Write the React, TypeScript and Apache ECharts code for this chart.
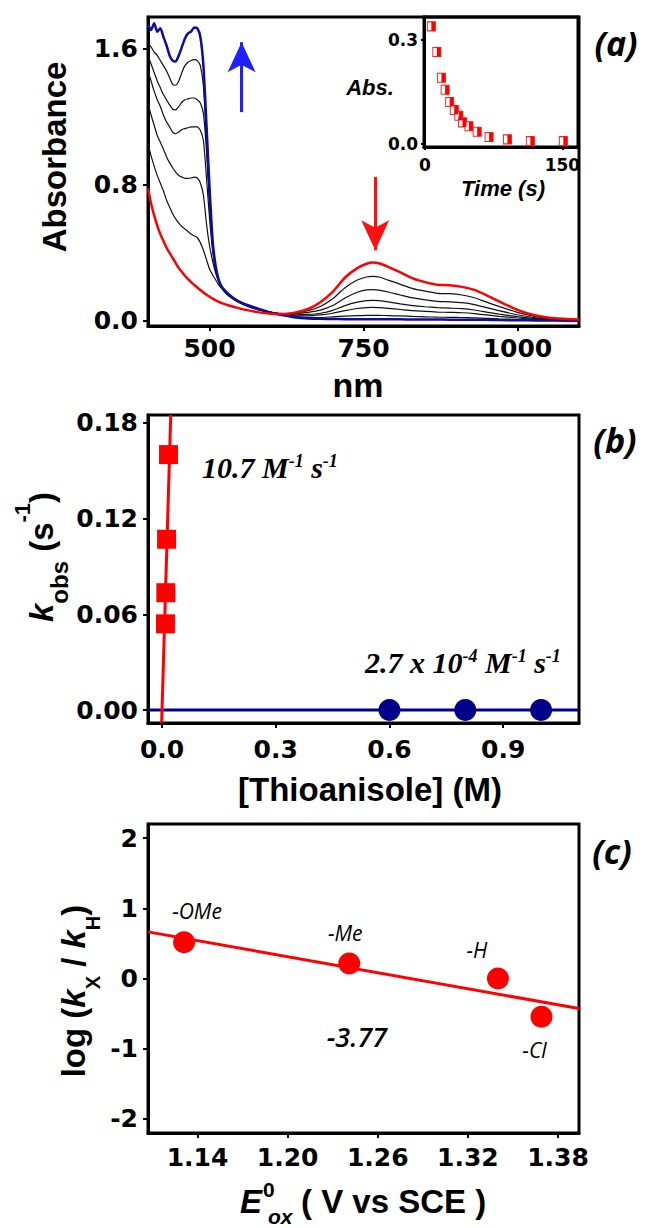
import React, { useEffect, useRef } from 'react';
import * as echarts from 'echarts';

// ---------- Panel (a): UV-vis spectra ----------
const wavelengths = [
  400, 405, 410, 415, 420, 425, 430, 435, 440, 445, 450, 455, 460, 465, 470, 475, 480, 485, 490, 495, 500, 505, 510, 515, 520,
  530, 540, 550, 560,
  580, 600, 620, 640, 660, 680, 700, 720, 740,
  755, 765, 775,
  790, 810, 830, 850, 870, 890, 910, 930, 950, 970,
  1000, 1030, 1060, 1100,
];

const absRed = [
  0.78, 0.69, 0.62, 0.56, 0.51, 0.47, 0.43, 0.40, 0.37, 0.34, 0.31, 0.287, 0.265, 0.245, 0.228, 0.212, 0.196, 0.181, 0.167, 0.154, 0.142, 0.131, 0.121, 0.112, 0.104,
  0.092, 0.082, 0.072, 0.064,
  0.05, 0.042, 0.04, 0.05, 0.07, 0.11, 0.17, 0.255, 0.31,
  0.336, 0.343, 0.339,
  0.318, 0.285, 0.25, 0.228, 0.213, 0.21, 0.2, 0.182, 0.15, 0.115,
  0.065, 0.032, 0.016, 0.008,
];

const absBlack1 = [
  1.04, 0.97, 0.91, 0.855, 0.81, 0.765, 0.71, 0.67, 0.63, 0.60, 0.575, 0.555, 0.54, 0.525, 0.51, 0.50, 0.49, 0.46, 0.415, 0.36, 0.305, 0.27, 0.24, 0.21, 0.19,
  0.16, 0.135, 0.11, 0.093,
  0.065, 0.05, 0.043, 0.047, 0.06, 0.085, 0.13, 0.195, 0.24,
  0.258, 0.262, 0.258,
  0.24, 0.215, 0.19, 0.175, 0.162, 0.16, 0.152, 0.136, 0.11, 0.085,
  0.05, 0.025, 0.012, 0.006,
];

const absBlack2 = [
  1.28, 1.21, 1.15, 1.09, 1.05, 1.01, 0.965, 0.93, 0.90, 0.875, 0.855, 0.845, 0.838, 0.838, 0.84, 0.845, 0.84, 0.81, 0.74, 0.57, 0.44, 0.35, 0.28, 0.23, 0.195,
  0.15, 0.125, 0.104, 0.088,
  0.064, 0.049, 0.041, 0.042, 0.05, 0.063, 0.09, 0.135, 0.168,
  0.182, 0.184, 0.181,
  0.17, 0.152, 0.135, 0.124, 0.115, 0.112, 0.107, 0.096, 0.078, 0.06,
  0.036, 0.018, 0.009, 0.004,
];

const absBlack3 = [
  1.47, 1.41, 1.35, 1.30, 1.26, 1.21, 1.17, 1.14, 1.11, 1.10, 1.11, 1.125, 1.13, 1.135, 1.14, 1.14, 1.14, 1.12, 1.06, 0.84, 0.60, 0.41, 0.29, 0.23, 0.19,
  0.15, 0.125, 0.105, 0.09,
  0.066, 0.05, 0.04, 0.036, 0.038, 0.045, 0.062, 0.09, 0.11,
  0.119, 0.121, 0.119,
  0.112, 0.1, 0.09, 0.083, 0.078, 0.075, 0.072, 0.064, 0.052, 0.04,
  0.025, 0.013, 0.007, 0.003,
];

const absBlack4 = [
  1.56, 1.51, 1.46, 1.41, 1.37, 1.33, 1.30, 1.27, 1.245, 1.24, 1.26, 1.285, 1.30, 1.305, 1.31, 1.31, 1.30, 1.28, 1.22, 1.0, 0.68, 0.43, 0.30, 0.235, 0.195,
  0.155, 0.128, 0.108, 0.093,
  0.068, 0.05, 0.038, 0.03, 0.03, 0.035, 0.045, 0.06, 0.073,
  0.078, 0.079, 0.078,
  0.074, 0.067, 0.06, 0.056, 0.052, 0.05, 0.048, 0.043, 0.035, 0.027,
  0.017, 0.009, 0.005, 0.002,
];

const absBlack5 = [
  1.63, 1.61, 1.58, 1.56, 1.53, 1.50, 1.47, 1.43, 1.39, 1.385, 1.41, 1.46, 1.50, 1.52, 1.53, 1.535, 1.53, 1.50, 1.38, 1.05, 0.70, 0.44, 0.31, 0.24, 0.2,
  0.16, 0.13, 0.11, 0.095,
  0.07, 0.05, 0.037, 0.025, 0.02, 0.02, 0.024, 0.028, 0.031,
  0.033, 0.033, 0.033,
  0.031, 0.029, 0.026, 0.024, 0.022, 0.021, 0.02, 0.018, 0.015, 0.012,
  0.008, 0.005, 0.003, 0.001,
];

const absBlue = [
  1.74, 1.71, 1.75, 1.70, 1.72, 1.67, 1.62, 1.56, 1.53, 1.525, 1.56, 1.61, 1.66, 1.69, 1.70, 1.725, 1.72, 1.67, 1.50, 1.15, 0.78, 0.47, 0.32, 0.24, 0.2,
  0.16, 0.13, 0.11, 0.095,
  0.07, 0.048, 0.033, 0.02, 0.014, 0.012, 0.011, 0.01, 0.01,
  0.01, 0.01, 0.01,
  0.009, 0.009, 0.008, 0.008, 0.008, 0.007, 0.007, 0.006, 0.006, 0.005,
  0.004, 0.003, 0.002, 0.001,
];

// arrows (data coordinates): [x, yStart, yTip]
const blueArrow = [552, 1.227, 1.638];
const redArrow = [769, 0.846, 0.415];

// ---------- Inset: decay at 765 nm ----------
const insetTime = [7, 13, 18, 22, 27, 32, 37, 41, 48, 57, 70, 90, 115, 151];
const insetAbs = [0.34, 0.266, 0.192, 0.157, 0.122, 0.099, 0.082, 0.063, 0.052, 0.036, 0.021, 0.014, 0.009, 0.009];

// ---------- Panel (b): kobs vs [thioanisole] ----------
const thioRed = [0.009, 0.010, 0.012, 0.017];
const kobsRed = [0.054, 0.0735, 0.107, 0.16];
const fitRedX = [-0.001, 0.023];
const fitRedY = [-0.0081, 0.1848];
const thioBlue = [0.6, 0.8, 1.0];
const kobsBlue = [0, 0, 0];
const fitBlueX = [-0.037, 1.1];
const fitBlueY = [0, 0];

// ---------- Panel (c): Hammett-type plot ----------
const substituents = ['-OMe', '-Me', '-H', '-Cl'];
const eox = [1.131, 1.241, 1.34, 1.369];
const logRatio = [0.516, 0.213, 0, -0.545];
const fitEX = [1.107, 1.394];
const fitEY = [0.664, -0.427];

// ---------- ticks ----------
const aXTicks = [500, 750, 1000];
const aYTicks = [0, 0.8, 1.6];
const insetXTicks = [0, 150];
const insetYTicks = [0, 0.3];
const bXTicks = [0, 0.3, 0.6, 0.9];
const bYTicks = [0, 0.06, 0.12, 0.18];
const cXTicks = [1.14, 1.2, 1.26, 1.32, 1.38];
const cYTicks = [-2, -1, 0, 1, 2];

const TICK_FONT = 'DejaVu Sans';
const TITLE_FONT = 'Liberation Sans';
const SERIF = 'Liberation Serif';
const ITAL = 'Open Sans';

function valueAxis(gridIndex: number, min: number, max: number, ticks: number[], digits: number, o: any = {}) {
  return {
    type: 'value',
    gridIndex,
    min,
    max,
    axisLine: { show: true, onZero: false, lineStyle: { color: '#000', width: 3 } },
    axisTick: {
      show: true,
      inside: false,
      length: o.tickLen ?? 5,
      customValues: ticks,
      lineStyle: { color: '#000', width: 2 },
    },
    axisLabel: {
      show: true,
      customValues: ticks,
      formatter: (v: number) => Number(v).toFixed(digits),
      fontFamily: TICK_FONT,
      fontWeight: 'bold',
      fontSize: o.fontSize ?? 25,
      color: '#000',
      margin: o.margin ?? 10,
    },
    splitLine: { show: false },
  };
}

function pairs(xs: number[], ys: number[]) {
  return xs.map((x, i) => [x, ys[i]]);
}

function txt(text: string, x: number, y: number, style: any, extra: any = {}) {
  return {
    type: 'text',
    x,
    y,
    rotation: extra.rotation ?? 0,
    z: 100,
    style: {
      text,
      fill: '#000',
      align: extra.align ?? 'center',
      textAlign: extra.align ?? 'center',
      verticalAlign: 'middle',
      textVerticalAlign: 'middle',
      ...style,
    },
  };
}

function buildOption() {
  const grids = [
    { left: 148, top: 17, width: 431, height: 309 },
    { left: 424, top: 17, width: 154, height: 130 },
    { left: 148, top: 415, width: 431, height: 308 },
    { left: 148, top: 824, width: 431, height: 309 },
  ].map((g) => ({ ...g, show: true, borderColor: '#000', borderWidth: 3, backgroundColor: 'transparent', containLabel: false }));

  const blackCurves = [absBlack1, absBlack2, absBlack3, absBlack4, absBlack5];

  const series: any[] = [];
  blackCurves.forEach((arr, k) => {
    series.push({
      name: 'black' + k,
      type: 'line',
      xAxisIndex: 0,
      yAxisIndex: 0,
      data: pairs(wavelengths, arr),
      showSymbol: false,
      symbol: 'none',
      smooth: 0.2,
      lineStyle: { color: '#111', width: 1.2 },
      z: 2,
    });
  });
  series.push({
    name: 'blue',
    type: 'line',
    xAxisIndex: 0,
    yAxisIndex: 0,
    data: pairs(wavelengths, absBlue),
    showSymbol: false,
    symbol: 'none',
    smooth: 0.2,
    lineStyle: { color: '#0c0ca6', width: 2.5 },
    z: 3,
    markLine: {
      silent: true,
      symbol: ['none', 'arrow'],
      symbolSize: [21, 30],
      label: { show: false },
      lineStyle: { color: '#1f1fff', width: 3, type: 'solid' },
      data: [[{ coord: [blueArrow[0], blueArrow[1]] }, { coord: [blueArrow[0], blueArrow[2]] }]],
    },
  });
  series.push({
    name: 'red',
    type: 'line',
    xAxisIndex: 0,
    yAxisIndex: 0,
    data: pairs(wavelengths, absRed),
    showSymbol: false,
    symbol: 'none',
    smooth: 0.2,
    lineStyle: { color: '#ff0000', width: 2.5 },
    z: 4,
    markLine: {
      silent: true,
      symbol: ['none', 'arrow'],
      symbolSize: [21, 30],
      label: { show: false },
      lineStyle: { color: '#ff1010', width: 3, type: 'solid' },
      data: [[{ coord: [redArrow[0], redArrow[1]] }, { coord: [redArrow[0], redArrow[2]] }]],
    },
  });

  // inset: half-filled squares
  series.push({
    type: 'scatter',
    xAxisIndex: 1,
    yAxisIndex: 1,
    data: pairs(insetTime, insetAbs),
    symbol: 'rect',
    symbolSize: [8, 9],
    itemStyle: { color: '#fff', borderColor: '#ff2020', borderWidth: 1, opacity: 1 },
    z: 5,
  });
  series.push({
    type: 'scatter',
    xAxisIndex: 1,
    yAxisIndex: 1,
    data: pairs(insetTime, insetAbs),
    symbol: 'rect',
    symbolSize: [4, 9],
    symbolOffset: [2, 0],
    itemStyle: { color: '#ff0000', opacity: 1 },
    z: 6,
  });

  // panel b
  series.push({
    type: 'line',
    xAxisIndex: 2,
    yAxisIndex: 2,
    data: pairs(fitBlueX, fitBlueY),
    showSymbol: false,
    symbol: 'none',
    lineStyle: { color: '#00008b', width: 3 },
    z: 2,
  });
  series.push({
    type: 'line',
    xAxisIndex: 2,
    yAxisIndex: 2,
    data: pairs(fitRedX, fitRedY),
    showSymbol: false,
    symbol: 'none',
    clip: true,
    lineStyle: { color: '#ff0000', width: 3 },
    z: 2,
  });
  series.push({
    type: 'scatter',
    xAxisIndex: 2,
    yAxisIndex: 2,
    data: pairs(thioRed, kobsRed),
    symbol: 'rect',
    symbolSize: 19,
    itemStyle: { color: '#ff0000', opacity: 1 },
    z: 4,
  });
  series.push({
    type: 'scatter',
    xAxisIndex: 2,
    yAxisIndex: 2,
    data: pairs(thioBlue, kobsBlue),
    symbol: 'circle',
    symbolSize: 22,
    itemStyle: { color: '#00008b', opacity: 1 },
    z: 4,
  });

  // panel c
  const cLabelOffsets = [[13, -31], [-4, -31], [-21, -29], [-7, 33]];
  series.push({
    type: 'line',
    xAxisIndex: 3,
    yAxisIndex: 3,
    data: pairs(fitEX, fitEY),
    showSymbol: false,
    symbol: 'none',
    lineStyle: { color: '#ff0000', width: 3 },
    z: 2,
  });
  series.push({
    type: 'scatter',
    xAxisIndex: 3,
    yAxisIndex: 3,
    data: eox.map((x, i) => ({
      value: [x, logRatio[i]],
      label: { offset: cLabelOffsets[i] },
    })),
    symbol: 'circle',
    symbolSize: 22,
    itemStyle: { color: '#ff0000', opacity: 1 },
    label: {
      show: true,
      position: 'inside',
      formatter: (p: any) => substituents[p.dataIndex],
      fontFamily: ITAL,
      fontStyle: 'italic',
      fontWeight: 'normal',
      fontSize: 21,
      color: '#000',
    },
    z: 4,
  });

  const titleMain = { fontFamily: TITLE_FONT, fontWeight: 'bold', fontSize: 33, lineHeight: 60 };
  const titleItalic = { ...titleMain, fontStyle: 'italic' };
  const boldTitle = { fontFamily: TITLE_FONT, fontWeight: 'bold', fontSize: 33 };

  const graphicEls: any[] = [
    txt('Absorbance', 54, 157, boldTitle, { rotation: Math.PI / 2 }),
    txt('nm', 358, 385, { ...boldTitle, fontSize: 34 }),
    txt('Abs.', 370, 87, { fontFamily: TITLE_FONT, fontWeight: 'bold', fontStyle: 'italic', fontSize: 22 }),
    txt('Time (s)', 503, 188, { fontFamily: TITLE_FONT, fontWeight: 'bold', fontStyle: 'italic', fontSize: 22 }),
    txt('(a)', 616, 43, { fontFamily: ITAL, fontWeight: 'bold', fontStyle: 'italic', fontSize: 34 }),
    txt('(b)', 615, 440, { fontFamily: ITAL, fontWeight: 'bold', fontStyle: 'italic', fontSize: 34 }),
    txt('(c)', 612, 851, { fontFamily: ITAL, fontWeight: 'bold', fontStyle: 'italic', fontSize: 34 }),
    txt('{k|k}{sub|obs}{m| (s}{sup|-1}{m|)}', 41, 557, {
      rich: {
        k: titleItalic,
        m: titleMain,
        sub: { fontFamily: TITLE_FONT, fontWeight: 'bold', fontSize: 24, lineHeight: 26, verticalAlign: 'bottom' },
        sup: { fontFamily: TITLE_FONT, fontWeight: 'bold', fontSize: 22, lineHeight: 28, verticalAlign: 'top' },
      },
    }, { rotation: Math.PI / 2 }),
    txt('[Thioanisole] (M)', 370, 789, boldTitle),
    txt('{m|log (}{k|k}{sub|X}{m| / }{k|k}{sub|H}{m|)}', 73, 991, {
      rich: {
        k: titleItalic,
        m: titleMain,
        sub: { fontFamily: TITLE_FONT, fontWeight: 'bold', fontSize: 20, lineHeight: 17, verticalAlign: 'bottom' },
      },
    }, { rotation: Math.PI / 2 }),
    // E0ox ( V vs SCE ) built from pieces
    txt('E', 240, 1201, { ...boldTitle, fontStyle: 'italic' }, { align: 'left' }),
    txt('0', 263, 1189, { fontFamily: TITLE_FONT, fontWeight: 'bold', fontSize: 21 }, { align: 'left' }),
    txt('ox', 268, 1216, { fontFamily: TITLE_FONT, fontWeight: 'bold', fontStyle: 'italic', fontSize: 21 }, { align: 'left' }),
    txt('( V vs SCE )', 301, 1201, boldTitle, { align: 'left' }),
    txt('{m|10.7 M}{sup|-1}{m| s}{sup|-1}', 202, 467, {
      rich: {
        m: { fontFamily: SERIF, fontWeight: 'bold', fontStyle: 'italic', fontSize: 30, lineHeight: 30 },
        sup: { fontFamily: SERIF, fontWeight: 'bold', fontStyle: 'italic', fontSize: 18, lineHeight: 18, verticalAlign: 'top' },
      },
    }, { align: 'left' }),
    txt('{m|2.7 x 10}{sup|-4}{m| M}{sup|-1}{m| s}{sup|-1}', 365, 662, {
      rich: {
        m: { fontFamily: SERIF, fontWeight: 'bold', fontStyle: 'italic', fontSize: 30, lineHeight: 30 },
        sup: { fontFamily: SERIF, fontWeight: 'bold', fontStyle: 'italic', fontSize: 18, lineHeight: 18, verticalAlign: 'top' },
      },
    }, { align: 'left' }),
    txt('-3.77', 357, 1036, { fontFamily: ITAL, fontWeight: 600, fontStyle: 'italic', fontSize: 27 }),
  ];

  return {
    animation: false,
    backgroundColor: '#fff',
    grid: grids,
    xAxis: [
      valueAxis(0, 400, 1100, aXTicks, 0, { margin: 10 }),
      valueAxis(1, -1, 167, insetXTicks, 0, { fontSize: 17, margin: 9, tickLen: 3 }),
      valueAxis(2, -0.037, 1.1, bXTicks, 1, { margin: 14 }),
      valueAxis(3, 1.107, 1.394, cXTicks, 2, { margin: 12 }),
    ],
    yAxis: [
      valueAxis(0, -0.03, 1.786, aYTicks, 1, { margin: 10 }),
      valueAxis(1, -0.008, 0.367, insetYTicks, 1, { fontSize: 17, margin: 6, tickLen: 3 }),
      valueAxis(2, -0.0081, 0.1848, bYTicks, 2, { margin: 10 }),
      valueAxis(3, -2.2, 2.2, cYTicks, 0, { margin: 10 }),
    ],
    series,
    graphic: { elements: graphicEls },
  };
}

export default function App() {
  const ref = useRef<HTMLDivElement>(null);
  useEffect(() => {
    if (!ref.current) return;
    const chart = echarts.init(ref.current, undefined, { renderer: 'svg' });
    chart.setOption(buildOption() as any);
    return () => chart.dispose();
  }, []);
  return (
    <div
      ref={ref}
      style={{ position: 'absolute', left: 0, top: 0, width: 645, height: 1228, background: '#fff' }}
    />
  );
}
